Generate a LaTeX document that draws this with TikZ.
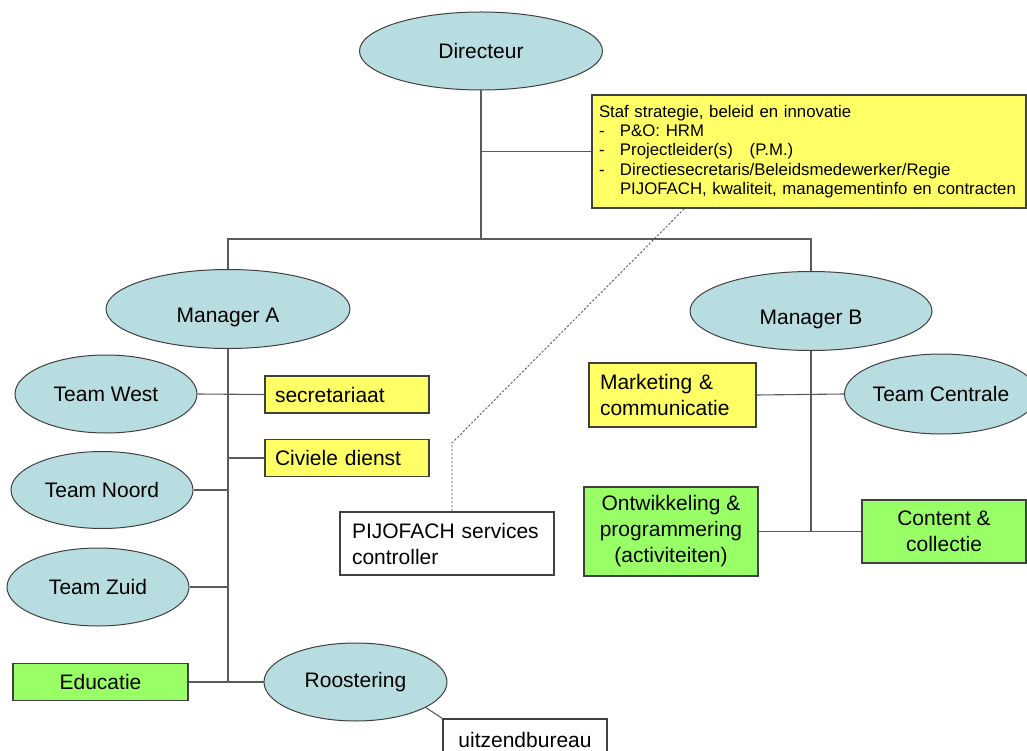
\documentclass[tikz,border=0pt]{standalone}
\usepackage{fontspec}
\setmainfont{Liberation Sans}
\usetikzlibrary{shapes.geometric}
\definecolor{ellfill}{RGB}{184,221,225}
\definecolor{yel}{RGB}{255,255,102}
\definecolor{grn}{RGB}{153,255,102}
\definecolor{edgecol}{RGB}{64,64,64}
\definecolor{wirecol}{RGB}{90,90,90}
\begin{document}
\begin{tikzpicture}[x=1pt,y=-1pt,
  ell/.style={ellipse, draw=edgecol, line width=1pt, fill=ellfill, inner sep=0pt, font=\fontsize{21}{26}\selectfont},
  lowtext/.style={text height=26pt, text depth=0pt},
  hightext/.style={text height=10pt, text depth=6pt},
  bx/.style={rectangle, draw=edgecol, line width=1.2pt, inner sep=0pt, font=\fontsize{21}{26}\selectfont},
  yb/.style={bx, fill=yel},
  gb/.style={bx, fill=grn},
  wb/.style={bx, fill=white},
  wire/.style={draw=wirecol, line width=1.1pt},
  dotwire/.style={draw=wirecol, line width=0.9pt, dash pattern=on 2.2pt off 1.8pt}
]
\useasboundingbox (0,0) rectangle (1027,751);

% ellipses
\node[ell, minimum width=243pt, minimum height=78pt] (dir) at (481,51) {Directeur};
\node[ell, minimum width=244pt, minimum height=79pt, lowtext] (ma) at (228,309) {Manager A};
\node[ell, minimum width=242pt, minimum height=79pt, lowtext] (mb) at (811,311) {Manager B};
\node[ell, minimum width=182pt, minimum height=78pt] (tw) at (106,394) {Team West};
\node[ell, minimum width=182pt, minimum height=77pt] (tn) at (102,490) {Team Noord};
\node[ell, minimum width=182pt, minimum height=78pt] (tz) at (98,587) {Team Zuid};
\node[ell, minimum width=183pt, minimum height=78pt] (ro) at (355.5,682) {Roostering};
\node[ell, minimum width=176pt, minimum height=80pt] (tc) at (941,394) {Team Centrale};

% boxes
\node[yb, text width=420pt, inner xsep=7pt, minimum height=113pt, align=left,
      font=\fontsize{16.8}{19.4}\selectfont] (staf) at (809,151.5)
  {Staf strategie, beleid en innovatie\\
   \makebox[21pt][l]{-}P\&O: HRM\\
   \makebox[21pt][l]{-}Projectleider(s)\ \ \ (P.M.)\\
   \makebox[21pt][l]{-}Directiesecretaris/Beleidsmedewerker/Regie\\
   \hspace*{21pt}PIJOFACH, kwaliteit, managementinfo en contracten};
\node[yb, text width=144pt, inner xsep=10pt, minimum height=37pt, align=left] (sec) at (347,394.5) {secretariaat};
\node[yb, text width=144pt, inner xsep=10pt, minimum height=37pt, align=left] (civ) at (347,458) {Civiele dienst};
\node[wb, text width=190pt, inner xsep=12pt, minimum height=63pt, align=left] (pijo) at (447,543.5) {PIJOFACH services\\controller};
\node[wb, minimum width=164pt, minimum height=42pt] (uitz) at (525,740) {uitzendbureau};
\node[gb, minimum width=175pt, minimum height=37pt] (edu) at (100.5,682) {Educatie};
\node[yb, text width=145pt, inner xsep=11pt, minimum height=64pt, align=left] (mkt) at (672.5,395) {Marketing \&\\communicatie};
\node[gb, minimum width=174pt, minimum height=89pt, align=center] (ontw) at (671,531.5) {Ontwikkeling \&\\programmering\\(activiteiten)};
\node[gb, minimum width=164pt, minimum height=63pt, align=center] (cont) at (944,531.5) {Content \&\\collectie};

% connectors
\coordinate (busM) at (481,239);
\draw[wire] (dir.south) -- (busM);
\draw[wire] (dir.south |- staf.west) -- (staf.west);
\draw[wire] (ma.north) |- (busM) -| (mb.north);

\draw[wire] (ma.south) -- (ma.south |- ro.west);
\draw[wire] (tw.east) -- (sec.west);
\draw[wire] (ma.south |- civ.west) -- (civ.west);
\draw[wire] (tn.east) -- (ma.south |- tn.east);
\draw[wire] (tz.east) -- (ma.south |- tz.east);
\draw[wire] (edu.east) -- (ro.west);
\draw[wire] (ro.-20) -- (uitz.north west);

\draw[wire] (mb.south) -- (mb.south |- ontw.east);
\draw[wire] (mkt.east) -- (tc.west);
\draw[wire] (ontw.east) -- (cont.west);

\coordinate (dbend) at (452,443);
\coordinate (dtop) at (685,208);
\draw[dotwire] (pijo.north -| dbend) -- (dbend) -- (dtop);
\end{tikzpicture}
\end{document}
